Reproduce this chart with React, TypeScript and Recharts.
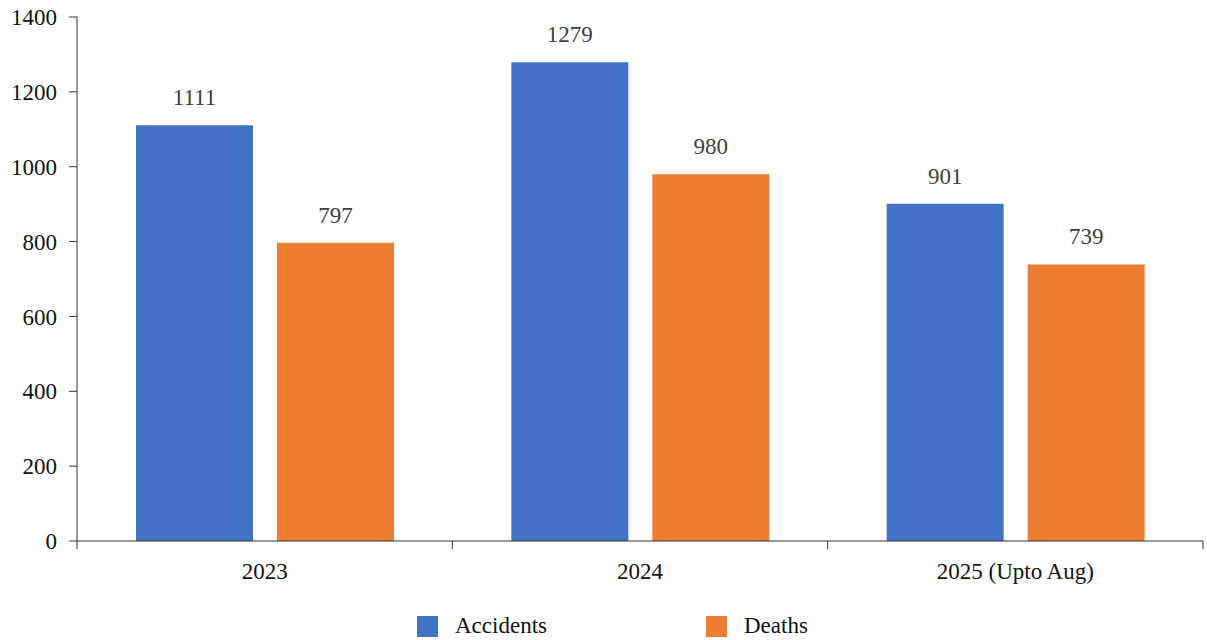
import React from "react";
import { BarChart, Bar, XAxis, YAxis, LabelList } from "recharts";

const categories = ["2023", "2024", "2025 (Upto Aug)"];
const accidents = [1111, 1279, 901];
const deaths = [797, 980, 739];
const yTicks = [0, 200, 400, 600, 800, 1000, 1200, 1400];

const data = categories.map((c, i) => ({
  year: c,
  pos: i + 0.5,
  Accidents: accidents[i],
  Deaths: deaths[i],
}));

const BLUE = "#4472C4";
const ORANGE = "#ED7D31";
const FONT = "'Liberation Serif', 'DejaVu Serif', serif";
const AXIS = "#333333";
const FS = 23;

const xTickValues = [0, 0.5, 1, 1.5, 2, 2.5, 3];

const XTick = (props: any) => {
  const { x, y, payload } = props;
  const v = payload.value;
  if (Number.isInteger(v)) {
    return <line x1={x} x2={x} y1={y} y2={y + 8} stroke={AXIS} strokeWidth={1} />;
  }
  const idx = Math.floor(v);
  return (
    <text x={x} y={y + 38} textAnchor="middle" fontFamily={FONT} fontSize={FS} fill="#111">
      {categories[idx]}
    </text>
  );
};

export default function App() {
  return (
    <div style={{ position: "absolute", left: 0, top: 0, width: 1207, height: 640, background: "#fff" }}>
      <BarChart
        width={1207}
        height={640}
        data={data}
        margin={{ top: 17, right: 4, bottom: 98, left: 0 }}
        barGap={24}
      >
        <XAxis xAxisId="cat" dataKey="year" hide height={0} />
        <XAxis
          xAxisId="grid"
          dataKey="pos"
          type="number"
          domain={[0, 3]}
          ticks={xTickValues}
          interval={0}
          tick={<XTick />}
          tickLine={false}
          tickSize={0}
          tickMargin={0}
          axisLine={{ stroke: AXIS, strokeWidth: 1 }}
          height={1}
        />
        <YAxis
          domain={[0, 1400]}
          ticks={yTicks}
          interval={0}
          width={77}
          tickSize={8}
          tickMargin={12}
          axisLine={{ stroke: AXIS, strokeWidth: 1 }}
          tickLine={{ stroke: AXIS, strokeWidth: 1 }}
          tick={{ fontFamily: FONT, fontSize: FS, fill: "#111" }}
        />
        <Bar xAxisId="cat" dataKey="Accidents" fill={BLUE} barSize={117} isAnimationActive={false}>
          <LabelList dataKey="Accidents" position="top" offset={20} style={{ fontFamily: FONT, fontSize: FS, fill: "#404040" }} />
        </Bar>
        <Bar xAxisId="cat" dataKey="Deaths" fill={ORANGE} barSize={117} isAnimationActive={false}>
          <LabelList dataKey="Deaths" position="top" offset={20} style={{ fontFamily: FONT, fontSize: FS, fill: "#404040" }} />
        </Bar>
      </BarChart>
      <div
        style={{
          position: "absolute",
          top: 612,
          left: 417,
          display: "flex",
          alignItems: "center",
          fontFamily: FONT,
          fontSize: FS,
          color: "#111",
          lineHeight: "28px",
        }}
      >
        <span style={{ display: "inline-block", width: 21, height: 21, background: BLUE }} />
        <span style={{ marginLeft: 17, width: 251 }}>Accidents</span>
        <span style={{ display: "inline-block", width: 21, height: 21, background: ORANGE }} />
        <span style={{ marginLeft: 17 }}>Deaths</span>
      </div>
    </div>
  );
}
